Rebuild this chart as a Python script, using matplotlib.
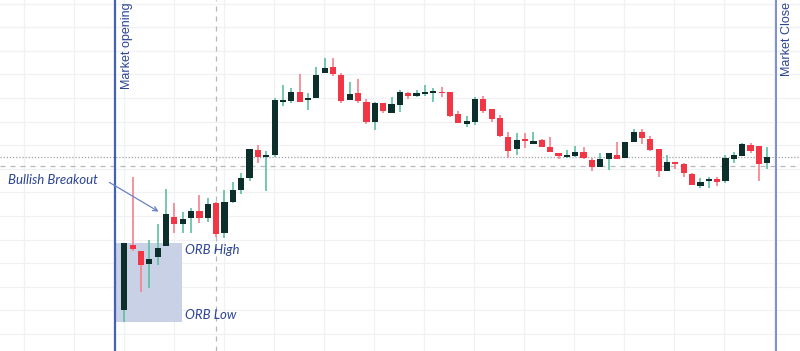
import numpy as np
import matplotlib
matplotlib.use("Agg")
import matplotlib.pyplot as plt
from matplotlib.patches import Rectangle

# OHLC values (arbitrary price units)
opens = [50, 115, 109, 95.7, 102.7, 114, 143.3, 135.7, 141.7, 149.3, 142.3, 156.7, 126.7, 157.7, 170,
         181.7, 210, 203, 205, 257.7, 259.3, 268.3, 260, 262.3, 286.7, 292.7, 285, 259.7, 266.7, 258.3,
         238.3, 256.7, 246.7, 255, 267.3, 264, 266.3, 267, 267.7, 267.7, 245.7, 235.7, 237.7, 260.7, 250.7,
         241.7, 223.3, 210.7, 220.7, 216.3, 220, 212.7, 207.3, 203.3, 204.3, 208.3, 200, 193.3, 200.7, 205,
         201.7, 217.7, 227.7, 221, 211, 189.3, 198.3, 195.7, 186, 174, 179, 180.7, 179, 201, 204, 215,
         214.3, 196.7]
highs = [117.3, 183.3, 109, 120, 135.7, 171, 156.7, 148.3, 152, 165, 161.7, 158.3, 170, 178.3, 187.3,
         211, 215, 209.3, 262.3, 275, 272.3, 285.7, 267.3, 293.3, 301.7, 301.7, 287.3, 278.3, 281, 260.7,
         258.3, 257.3, 262.7, 270, 268.3, 270, 275, 271.7, 273.3, 267.7, 249, 244, 262.7, 264, 250.7,
         245, 228.3, 227.3, 226.7, 227.7, 221, 223.3, 207.3, 210, 214, 213.5, 202.3, 207.3, 206.7, 218.3,
         218.3, 230.7, 230.7, 224, 211, 205, 198.3, 197, 186.7, 181.7, 183.3, 183.3, 205, 208.3, 216.7, 217.3,
         214.3, 212.7]
lows = [38.3, 109, 68.3, 71.7, 95, 114, 126.7, 126.7, 126.7, 136.7, 138.3, 123.3, 122, 156.7, 166,
        179.3, 197.3, 169.3, 203.3, 254, 256.7, 258.3, 250, 262.3, 286.7, 284.3, 257.3, 259.7, 257.3, 235.7,
        230, 247.3, 246.7, 248.3, 261, 263.3, 264.3, 258.3, 263.3, 243.3, 236.7, 233.3, 235, 246.7, 238.3,
        223.3, 201.7, 205, 211.7, 215.7, 213.3, 207.7, 201, 202.3, 202.7, 201, 189.3, 193.3, 190, 200.7,
        201.7, 217.7, 216, 209, 183.3, 189.3, 191, 183.3, 175, 172.3, 171.7, 174, 176.7, 196.7, 204, 206.7,
        179.3, 190.7]
closes = [117.3, 111, 95, 100.7, 112.3, 145.7, 135.7, 140.7, 149.3, 141.7, 155.7, 125.7, 158.3, 170, 181.7,
          211, 202.7, 205, 260, 260, 268.3, 258.3, 262.3, 285, 292.3, 285.7, 259.3, 265.7, 259.3, 238.3,
          256.7, 249.3, 256, 267.7, 264.3, 266.7, 267.7, 268.7, 266.7, 244.3, 236.7, 238.7, 260.7, 249.3, 241,
          224.3, 209, 219.7, 219, 218.7, 213.3, 207.7, 204, 204.3, 208.3, 201.7, 193.3, 201, 206.7, 200.7,
          218.3, 227.7, 222.3, 210, 189, 197.7, 196.3, 186.7, 175, 178.3, 180.7, 178.3, 201.7, 205, 215.7, 209.3,
          196, 202.7]

labels_text = {"breakout": "Bullish Breakout", "high": "ORB High", "low": "ORB Low",
               "open": "Market opening", "close": "Market Close"}
orb_high = 117.3
orb_low = 38.3
level_dotted = 202.7
level_dashed = 193.7

BULL_BODY = "#0c2f2b"
BULL_WICK = "#5cbf9f"
BEAR_BODY = "#f23645"
BEAR_WICK = "#f5838d"
BLUE_LINE = "#4460b3"
TEXT_BLUE = "#2c4596"

fig = plt.figure(figsize=(8.0, 3.51), dpi=100)
ax = fig.add_axes([0, 0, 1, 1])
ax.set_facecolor("white")

step = 8.35
x0px = 124.3
ax.set_xlim(-x0px / step, (800 - x0px) / step)
ax.set_ylim(9, 360)

# grid
for gx in np.arange(-12, 84, 50 / step):
    ax.axvline(gx, color="#f0f1f4", lw=0.9, zorder=0)
for gy in np.arange(26, 360, 23.6):
    ax.axhline(gy, color="#f0f1f4", lw=0.9, zorder=0)

# ORB box
open_x = (115 - x0px) / step
box_right = (182 - x0px) / step
ax.add_patch(Rectangle((open_x, orb_low), box_right - open_x, orb_high - orb_low,
                       facecolor="#c9d1e7", edgecolor="none", zorder=1))

# reference lines
ax.axhline(level_dotted, color="#9ea3a8", lw=0.9, ls=(0, (1, 1.5)), zorder=1)
ax.axhline(level_dashed, color="#b4b7bb", lw=0.9, ls=(0, (4, 4)), zorder=1)
ax.axvline((216 - x0px) / step, color="#b4b7bb", lw=0.9, ls=(0, (4, 4)), zorder=1)
ax.axvline(open_x, color=BLUE_LINE, lw=1.6, zorder=5)
close_x = (776 - x0px) / step
ax.axvline(close_x, color="#7b8fcf", lw=1.4, zorder=5)

# candles
o = np.array(opens); h = np.array(highs); l = np.array(lows); c = np.array(closes)
xs = np.arange(len(o))
bull = c >= o
ax.vlines(xs[bull], l[bull], h[bull], color=BULL_WICK, lw=1.2, zorder=2)
ax.vlines(xs[~bull], l[~bull], h[~bull], color=BEAR_WICK, lw=1.2, zorder=2)
bottoms = np.minimum(o, c)
heights = np.maximum(np.abs(c - o), 1.6)
ax.bar(xs[bull], heights[bull], bottom=bottoms[bull], width=0.74, color=BULL_BODY, zorder=3)
ax.bar(xs[~bull], heights[~bull], bottom=bottoms[~bull], width=0.74, color=BEAR_BODY, zorder=3)

# annotations
ital = dict(family=["Lato", "DejaVu Sans"], fontstyle="italic", fontsize=9.5, color=TEXT_BLUE)
ax.text((185 - x0px) / step, 360 - 250, labels_text["high"], ha="left", va="center", zorder=6, **ital)
ax.text((185 - x0px) / step, 360 - 315, labels_text["low"], ha="left", va="center", zorder=6, **ital)
ax.text((8 - x0px) / step, 360 - 180, labels_text["breakout"], ha="left", va="center", zorder=6, **ital)
ax.annotate("", xy=((161 - x0px) / step, 360 - 213), xytext=((107 - x0px) / step, 360 - 181),
            arrowprops=dict(arrowstyle="->", color="#6a80c6", lw=0.9, mutation_scale=8), zorder=6)
reg = dict(family=["Liberation Sans", "DejaVu Sans"], fontsize=9, rotation=90, color=TEXT_BLUE)
ax.text((127.5 - x0px) / step, 358, labels_text["open"], ha="center", va="top", zorder=6, **reg)
ax.text((787.5 - x0px) / step, 358, labels_text["close"], ha="center", va="top", zorder=6, **reg)

ax.set_xticks([]); ax.set_yticks([])
for s in ax.spines.values():
    s.set_visible(False)

fig.savefig("out.png", dpi=100)
